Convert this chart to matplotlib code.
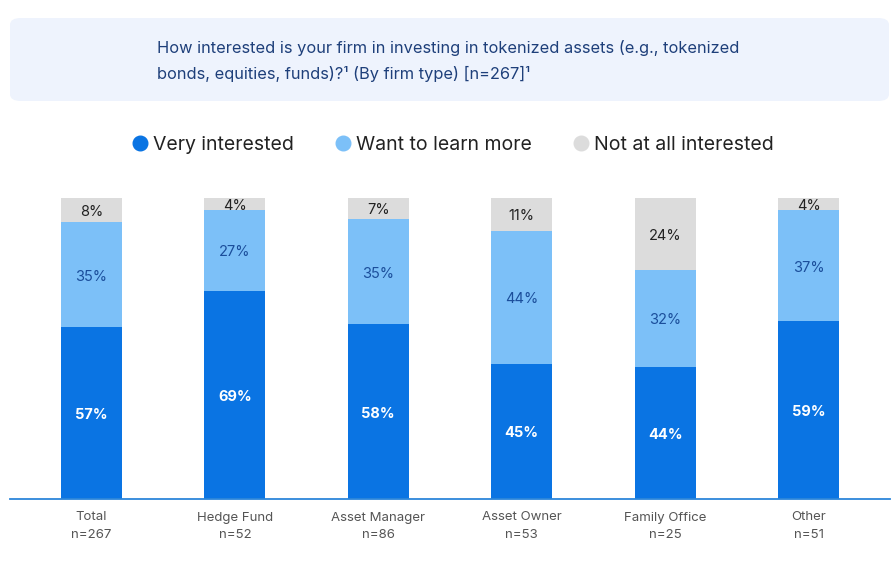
import matplotlib
matplotlib.use("Agg")
import matplotlib.pyplot as plt
import numpy as np
from matplotlib.patches import FancyBboxPatch
from matplotlib.lines import Line2D

# Data
CATEGORIES = ["Total", "Hedge Fund", "Asset Manager", "Asset Owner", "Family Office", "Other"]
SAMPLE_N = [267, 52, 86, 53, 25, 51]
VERY = [57, 69, 58, 45, 44, 59]
LEARN = [35, 27, 35, 44, 32, 37]
NOT_AT_ALL = [8, 4, 7, 11, 24, 4]
SERIES = ["Very interested", "Want to learn more", "Not at all interested"]
TITLE = ("How interested is your firm in investing in tokenized assets (e.g., tokenized\n"
         "bonds, equities, funds)?\u00b9 (By firm type) [n=267]\u00b9")

C_VERY, C_LEARN, C_NOT = "#0A74E3", "#7CC0F8", "#DCDCDC"
plt.rcParams["font.family"] = ["Inter", "DejaVu Sans"]

W, H = 896, 575
fig = plt.figure(figsize=(W / 100, H / 100), dpi=100)

# Title box
box = FancyBboxPatch((10 / W, 1 - 101 / H), 879 / W, 83 / H,
                     boxstyle="round,pad=0,rounding_size=0.012",
                     transform=fig.transFigure, facecolor="#EEF3FD", edgecolor="none")
fig.patches.append(box)
fig.text(157 / W, 1 - 61 / H, TITLE, ha="left", va="center", fontsize=11.8,
         color="#1E3F7A", linespacing=1.7)

# Axes
ax = fig.add_axes([10 / W, 1 - 499 / H, 880 / W, 301 / H])
x = np.arange(len(CATEGORIES))
bw = 0.425
very = np.array(VERY)
learn = np.array(LEARN)
notat = np.array(NOT_AT_ALL)
ax.bar(x, very, bw, color=C_VERY)
ax.bar(x, learn, bw, bottom=very, color=C_LEARN)
ax.bar(x, notat, bw, bottom=very + learn, color=C_NOT)

for i in range(len(x)):
    ax.text(x[i], very[i] / 2 - 0.6, f"{very[i]}%", ha="center", va="center",
            color="white", fontsize=10.5, fontweight="bold")
    ax.text(x[i], very[i] + learn[i] / 2 - 0.6, f"{learn[i]}%", ha="center", va="center",
            color="#1B4E9B", fontsize=10.5)
    ax.text(x[i], very[i] + learn[i] + notat[i] / 2 - 0.6, f"{notat[i]}%", ha="center",
            va="center", color="#222222", fontsize=10.5)

ax.set_xlim(-0.568, 5.568)
ax.set_ylim(0, 100)
for s in ["top", "right", "left"]:
    ax.spines[s].set_visible(False)
ax.spines["bottom"].set_color("#2C86DA")
ax.spines["bottom"].set_linewidth(1.3)
ax.set_yticks([])
ax.set_xticks(x)
ax.set_xticklabels([f"{c}\nn={n}" for c, n in zip(CATEGORIES, SAMPLE_N)],
                   fontsize=9.5, color="#555555", linespacing=1.6)
ax.tick_params(axis="x", length=0, pad=9)

# Legend
handles = [Line2D([], [], marker="o", linestyle="none", markersize=10.5, color=c)
           for c in (C_VERY, C_LEARN, C_NOT)]
fig.legend(handles, SERIES, loc="center", bbox_to_anchor=(451 / W, 1 - 145 / H),
           ncol=3, frameon=False, fontsize=14, handletextpad=0.1,
           columnspacing=1.9, handlelength=1.2, labelcolor="#222222")

fig.savefig("out.png", dpi=100)
